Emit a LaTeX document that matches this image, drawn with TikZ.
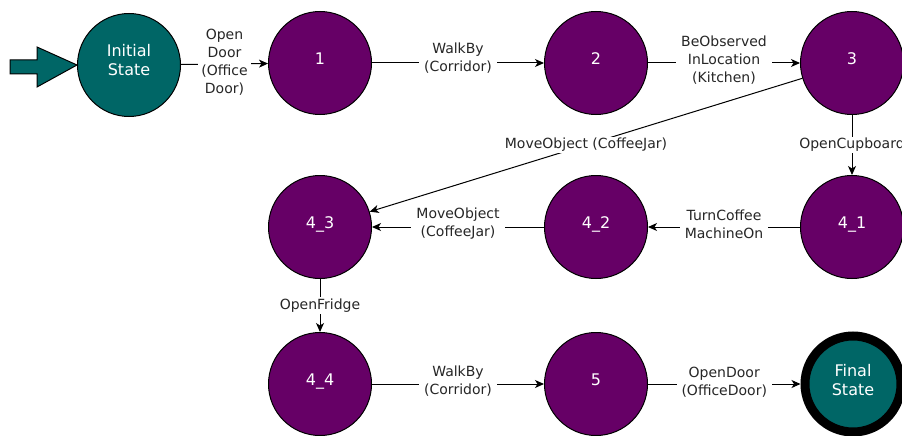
\documentclass[tikz,border=0pt]{standalone}
\usepackage{fontspec}
\setmainfont{DejaVu Sans}
\usetikzlibrary{arrows.meta}
\definecolor{tealc}{RGB}{0,102,102}
\definecolor{purp}{RGB}{102,0,102}
\tikzset{
  state/.style={circle, minimum size=103pt, inner sep=0pt, fill=purp, draw=black, line width=1pt, text=white, align=center, text depth=9pt, font=\fontsize{16}{19}\selectfont},
  initstate/.style={state, fill=tealc, text depth=11pt},
  finalstate/.style={state, fill=tealc, minimum size=96pt, line width=9pt},
  edgelbl/.style={fill=white, inner xsep=5pt, inner ysep=1.5pt, align=center, text=black!85, font=\fontsize{14}{18}\selectfont},
  trans/.style={draw=black, line width=1pt, -{Stealth[length=9pt,width=8pt,inset=2.5pt]}}
}
\begin{document}
\begin{tikzpicture}[x=1pt,y=-1pt]
\useasboundingbox (0,0) rectangle (902,436);
\node[initstate] (init) at (129,65) {Initial\\State};
\node[state] (n1) at (320,63) {1};
\node[state] (n2) at (596,63) {2};
\node[state] (n3) at (852,63) {3};
\node[state] (n43) at (320,227) {4\_3};
\node[state] (n42) at (596,227) {4\_2};
\node[state] (n41) at (852,227) {4\_1};
\node[state] (n44) at (320,384) {4\_4};
\node[state] (n5) at (596,384) {5};
\node[finalstate] (fin) at (853,384) {Final\\State};
\draw[fill=tealc, draw=black, line width=1pt] (10,60) -- (37,60) -- (37,47) -- (init.west) -- (37,87) -- (37,74) -- (10,74) -- cycle;
\draw[trans] (init) -- node[edgelbl, yshift=2pt, inner xsep=3pt] {Open\\Door\\(Office\\Door)} (n1);
\draw[trans] (n1) -- node[edgelbl, yshift=5pt] {WalkBy\\(Corridor)} (n2);
\draw[trans] (n2) -- node[edgelbl, yshift=3pt] {BeObserved\\InLocation\\(Kitchen)} (n3);
\draw[trans] (n3) -- node[edgelbl] {MoveObject (CoffeeJar)} (n43);
\draw[trans] (n3) -- node[edgelbl] {OpenCupboard} (n41);
\draw[trans] (n41) -- node[edgelbl, yshift=3pt] {TurnCoffee\\MachineOn} (n42);
\draw[trans] (n42) -- node[edgelbl, yshift=3pt] {MoveObject\\(CoffeeJar)} (n43);
\draw[trans] (n43) -- node[edgelbl] {OpenFridge} (n44);
\draw[trans] (n44) -- node[edgelbl, yshift=3pt] {WalkBy\\(Corridor)} (n5);
\draw[trans] (n5) -- node[edgelbl, yshift=2pt] {OpenDoor\\(OfficeDoor)} (fin);
\end{tikzpicture}
\end{document}
